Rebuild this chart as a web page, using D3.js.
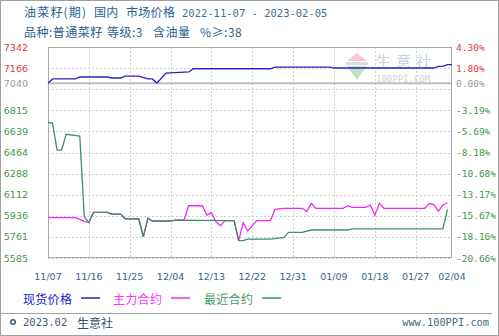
<!DOCTYPE html>
<html>
<head>
  <meta charset="utf-8">
  <title>油菜籽(期) 国内 市场价格</title>
</head>
<style>
  body {
    margin: 0;
    background: #fff;
  }
  svg text {
    font-family: "DejaVu Sans", sans-serif;
  }
  .cjk {
    font-family: "Noto Sans CJK SC", sans-serif;
  }
  .mono {
    font-family: "DejaVu Sans Mono", "Noto Sans CJK SC", monospace;
  }
</style>
<body>
  <script src="https://d3js.org/d3.v7.min.js"></script>
  <script>
    // 现货价格 (spot)
    const spotDates = ["2022-11-07","2022-11-08","2022-11-13","2022-11-14","2022-11-20","2022-11-21","2022-11-23","2022-11-24",
      "2022-11-27","2022-11-29","2022-11-30","2022-12-01","2022-12-03","2022-12-08","2022-12-09","2022-12-26","2022-12-27",
      "2023-01-08","2023-01-09","2023-01-31","2023-02-01","2023-02-02","2023-02-03","2023-02-04"];
    const spotPrice = [7040,7076,7076,7092,7092,7084,7084,7100,7100,7076,7076,7042,7125,7134,7161,7161,7175,
      7175,7167,7167,7181,7181,7195,7195];

    // 主力合约 (main contract)
    const mainDates = ["2022-11-07","2022-11-13","2022-11-14","2022-11-15","2022-11-16","2022-11-17","2022-11-20","2022-11-21",
      "2022-11-23","2022-11-24","2022-11-27","2022-11-28","2022-11-29","2022-11-30","2022-12-04","2022-12-05","2022-12-07",
      "2022-12-08","2022-12-11","2022-12-12","2022-12-13","2022-12-14","2022-12-15","2022-12-16","2022-12-18","2022-12-19",
      "2022-12-20","2022-12-21","2022-12-23","2022-12-26","2022-12-27","2022-12-29","2023-01-02","2023-01-03","2023-01-04",
      "2023-01-05","2023-01-11","2023-01-12","2023-01-13","2023-01-16","2023-01-17","2023-01-18","2023-01-19","2023-01-20",
      "2023-01-29","2023-01-30","2023-01-31","2023-02-01","2023-02-02","2023-02-03"];
    const mainPrice = [5921,5921,5906,5890,5880,5965,5965,5951,
      5951,5912,5912,5762,5915,5893,5893,5901,5905,
      6020,6020,5943,5962,5887,5854,5896,5896,5729,
      5879,5810,5896,5896,5991,5999,5999,5971,6040,
      5999,5999,6020,6007,6007,6026,5943,6040,5999,
      5999,6040,6030,5976,6026,6045];

    // 最近合约 (nearest contract)
    const nearDates = ["2022-11-07","2022-11-08","2022-11-09","2022-11-10","2022-11-11","2022-11-14","2022-11-15","2022-11-16",
      "2022-11-17","2022-11-20","2022-11-21","2022-11-23","2022-11-24","2022-11-27","2022-11-28","2022-11-29","2022-11-30",
      "2022-12-04","2022-12-05","2022-12-16","2022-12-18","2022-12-19","2022-12-20","2022-12-21","2022-12-26","2022-12-29",
      "2022-12-30","2023-01-02","2023-01-04","2023-01-12","2023-01-13","2023-02-02","2023-02-03"];
    const nearPrice = [6715,6709,6484,6484,6615,6600,5929,5880,
      5965,5965,5951,5951,5912,5912,5762,5915,5893,
      5893,5901,5896,5896,5729,5729,5743,5743,5757,
      5799,5799,5818,5818,5827,5827,5990];

    // axis labels
    const basePrice = 7040;
    const leftTicks = [7342, 7166, 7040, 6815, 6639, 6464, 6288, 6112, 5936, 5761, 5585];
    const rightTicks = ["4.30%", "1.80%", "0.00%", "-3.19%", "-5.69%", "-8.18%", "-10.68%", "-13.17%", "-15.67%", "-18.16%", "-20.66%"];
    const xTicks = ["2022-11-07","2022-11-16","2022-11-25","2022-12-04","2022-12-13","2022-12-22","2022-12-31",
      "2023-01-09","2023-01-18","2023-01-27","2023-02-04"];

    // title pieces
    const title1 = ["油菜籽(期)", "国内", "市场价格"];
    const title2 = ["品种:普通菜籽", "等级:3", "含油量", "%≥:38"];

    const w = 499;
    const h = 336;
    const parse = d3.timeParse("%Y-%m-%d");

    const svg = d3.select("body")
                  .append("svg")
                  .attr("width", w)
                  .attr("height", h);

    // outer frame
    svg.append("rect")
       .attr("x", 0.5).attr("y", 0.5)
       .attr("width", w - 1).attr("height", h - 1)
       .attr("fill", "none").attr("stroke", "#a0a0a0");

    // title
    const t1x = [24, 94, 126];
    svg.append("g")
       .selectAll("text")
       .data(title1)
       .join("text")
       .attr("class", "cjk")
       .attr("x", (d, i) => t1x[i]).attr("y", 17)
       .attr("font-size", 12).attr("fill", "#2b5f8f")
       .attr("letter-spacing", (d, i) => i === 0 ? 1.2 : 0.3)
       .text(d => d);
    svg.append("text").attr("class", "mono")
       .attr("x", 182).attr("y", 17)
       .attr("font-size", 10.5).attr("fill", "#3a6e9a")
       .text("2022-11-07 - 2023-02-05");
    const t2x = [24, 107, 153, 200];
    svg.append("g")
       .selectAll("text")
       .data(title2)
       .join("text")
       .attr("class", "cjk")
       .attr("x", (d, i) => t2x[i]).attr("y", 37)
       .attr("font-size", 12).attr("fill", "#2b5f8f")
       .attr("letter-spacing", 0.5)
       .text(d => d);

    const x = d3.scaleTime()
                .domain([parse(xTicks[0]), parse(xTicks[xTicks.length - 1])])
                .range([48, 452]);
    const y = d3.scaleLinear()
                .domain([leftTicks[leftTicks.length - 1], leftTicks[0]])
                .range([258, 47]);

    // watermark
    const wm = svg.append("g").attr("opacity", 0.45);
    wm.append("path").attr("d", "M347,61 L357,53 L367,61 Z").attr("fill", "#f08a8a");
    wm.append("path").attr("d", "M347,66 L357,80 L367,66 Z").attr("fill", "#7cc07c");
    wm.append("rect").attr("x", 346).attr("y", 62).attr("width", 22).attr("height", 3).attr("fill", "#b8b8b8");
    wm.append("text").attr("class", "cjk")
      .attr("x", 376).attr("y", 67)
      .attr("font-size", 15).attr("letter-spacing", 5).attr("fill", "#7f9cc0")
      .text("生意社");
    wm.append("text").attr("class", "mono")
      .attr("x", 376).attr("y", 82)
      .attr("font-size", 9).attr("fill", "#999")
      .text("100PPI.COM");

    // grid
    const gridVals = d3.range(11).map(i => y.domain()[0] + i * (y.domain()[1] - y.domain()[0]) / 10);
    svg.append("g")
       .selectAll("line")
       .data(gridVals)
       .join("line")
       .attr("x1", 48).attr("x2", 452)
       .attr("y1", d => Math.round(y(d)) + 0.5)
       .attr("y2", d => Math.round(y(d)) + 0.5)
       .attr("stroke", "#cfcfcf")
       .attr("stroke-dasharray", "2,2");
    svg.append("g")
       .selectAll("line")
       .data(xTicks.slice(1, -1))
       .join("line")
       .attr("x1", d => Math.round(x(parse(d))) + 0.5)
       .attr("x2", d => Math.round(x(parse(d))) + 0.5)
       .attr("y1", 47).attr("y2", 258)
       .attr("stroke", "#cfcfcf")
       .attr("stroke-dasharray", "2,2");

    // base line (0.00%)
    svg.append("line")
       .attr("x1", 48).attr("x2", 452)
       .attr("y1", y(basePrice)).attr("y2", y(basePrice))
       .attr("stroke", "#bdbdbd").attr("stroke-width", 2);

    // plot frame
    svg.append("rect")
       .attr("x", 48.5).attr("y", 47.5)
       .attr("width", 403).attr("height", 210)
       .attr("fill", "none").attr("stroke", "#a8a8a8");

    // y labels
    const labelColor = v => v > basePrice ? "#e03a3a" : (v === basePrice ? "#9a9a9a" : "#3f9a3f");
    svg.append("g")
       .selectAll("text")
       .data(leftTicks)
       .join("text")
       .attr("x", 28).attr("y", d => y(d))
       .attr("text-anchor", "end")
       .attr("dominant-baseline", "central")
       .attr("font-size", 9.5)
       .attr("fill", labelColor)
       .text(d => d);
    svg.append("g")
       .selectAll("text")
       .data(rightTicks)
       .join("text")
       .attr("class", "mono")
       .attr("x", 456).attr("y", (d, i) => y(leftTicks[i]))
       .attr("dominant-baseline", "central")
       .attr("font-size", 9.5)
       .attr("fill", (d, i) => labelColor(leftTicks[i]))
       .text(d => d);

    // x labels
    svg.append("g")
       .selectAll("text")
       .data(xTicks)
       .join("text")
       .attr("x", d => x(parse(d)))
       .attr("y", 276)
       .attr("text-anchor", "middle")
       .attr("dominant-baseline", "central")
       .attr("font-size", 9.5)
       .attr("fill", "#2f6590")
       .text(d => d3.timeFormat("%m/%d")(parse(d)));

    // lines
    const line = d3.line().x(d => x(d.date)).y(d => y(d.v));
    const series = [
      { name: "现货价格", dates: spotDates, vals: spotPrice, color: "#2424c0" },
      { name: "主力合约", dates: mainDates, vals: mainPrice, color: "#f028f0" },
      { name: "最近合约", dates: nearDates, vals: nearPrice, color: "#3f8f6c" }
    ];
    svg.append("g")
       .selectAll("path")
       .data(series)
       .join("path")
       .attr("fill", "none")
       .attr("stroke", d => d.color)
       .attr("stroke-width", 1.3)
       .attr("d", d => line(d.dates.map((t, i) => ({ date: parse(t), v: d.vals[i] }))));

    // legend
    const legendX = [23, 113, 204];
    const legendTextColor = ["#1a1acc", "#ff33ff", "#4a9a6a"];
    const lg = svg.append("g")
                  .selectAll("g")
                  .data(series)
                  .join("g")
                  .attr("transform", (d, i) => "translate(" + legendX[i] + ",298)");
    lg.append("text").attr("class", "cjk")
      .attr("dominant-baseline", "central")
      .attr("font-size", 12)
      .attr("letter-spacing", 0.3)
      .attr("fill", (d, i) => legendTextColor[i])
      .text(d => d.name);
    lg.append("line")
      .attr("x1", 58).attr("x2", 77)
      .attr("stroke", d => d.color).attr("stroke-width", 1.5);

    // footer
    svg.append("line")
       .attr("x1", 1).attr("x2", 492)
       .attr("y1", 313.5).attr("y2", 313.5)
       .attr("stroke", "#a0a0a0");
    svg.append("circle")
       .attr("cx", 13).attr("cy", 322).attr("r", 2.3)
       .attr("fill", "none").attr("stroke", "#3a5a7a").attr("stroke-width", 1.5);
    svg.append("text").attr("class", "mono")
       .attr("x", 23).attr("y", 322)
       .attr("dominant-baseline", "central")
       .attr("font-size", 10.5).attr("fill", "#3a5a7a")
       .text("2023.02");
    svg.append("text").attr("class", "cjk")
       .attr("x", 77).attr("y", 322)
       .attr("dominant-baseline", "central")
       .attr("font-size", 12).attr("fill", "#2b4f70")
       .text("生意社");
    svg.append("text").attr("class", "mono")
       .attr("x", 489).attr("y", 322)
       .attr("text-anchor", "end")
       .attr("dominant-baseline", "central")
       .attr("font-size", 10.3).attr("fill", "#3a6a8a")
       .text("www.100PPI.com");
  </script>
</body>
</html>
